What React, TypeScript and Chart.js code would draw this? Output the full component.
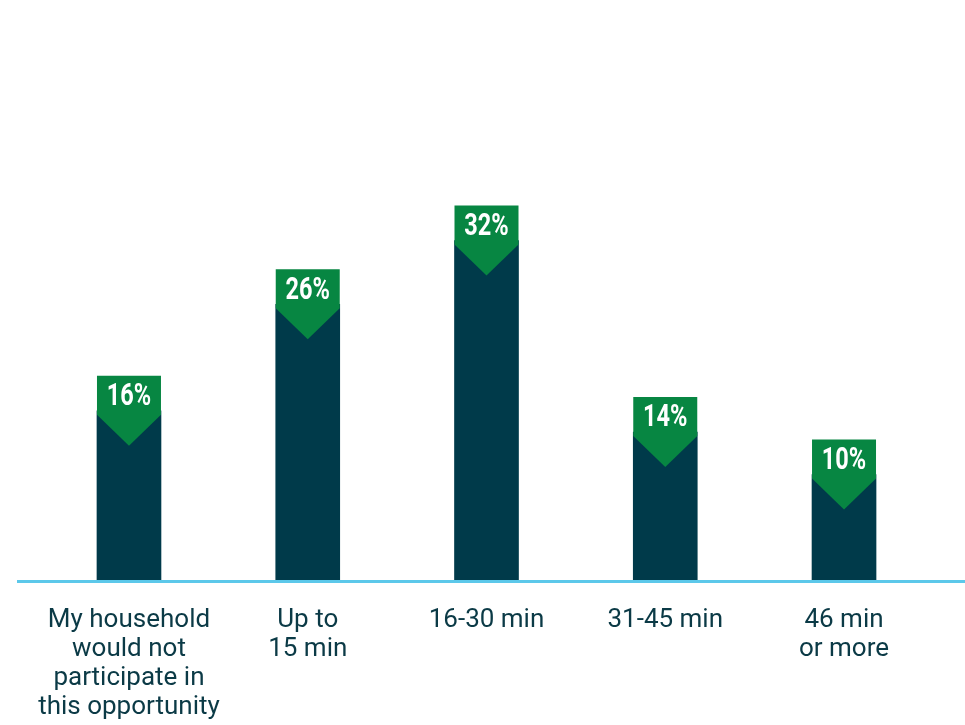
import React, { useEffect, useRef } from "react";
import { Chart, registerables } from "chart.js";

Chart.register(...registerables);

const categories: string[][] = [
  ["My household", "would not", "participate in", "this opportunity"],
  ["Up to", "15 min"],
  ["16-30 min"],
  ["31-45 min"],
  ["46 min", "or more"],
];
const values: number[] = [16, 26, 32, 14, 10];
const valueLabels: string[] = ["16%", "26%", "32%", "14%", "10%"];

const BAR = "#003a4a";
const GREEN = "#078642";
const AXIS = "#5cc8ea";
const TEXT = "#0b3a46";

const decorPlugin = {
  id: "decor",
  afterDatasetsDraw(chart: any) {
    const ctx = chart.ctx;
    const meta = chart.getDatasetMeta(0);
    const yScale = chart.scales.y;
    const y0 = yScale.getPixelForValue(0);
    ctx.save();
    ctx.strokeStyle = AXIS;
    ctx.lineWidth = 3;
    ctx.beginPath();
    ctx.moveTo(17, y0 + 0.5);
    ctx.lineTo(chart.width, y0 + 0.5);
    ctx.stroke();
    meta.data.forEach((bar: any, i: number) => {
      const half = bar.width / 2;
      const l = bar.x - half;
      const r = bar.x + half;
      const top = bar.y - 35;
      const rb = bar.y + 4;
      const tip = bar.y + 35;
      ctx.fillStyle = GREEN;
      ctx.beginPath();
      ctx.moveTo(l, top);
      ctx.lineTo(r, top);
      ctx.lineTo(r, rb);
      ctx.lineTo(bar.x, tip);
      ctx.lineTo(l, rb);
      ctx.closePath();
      ctx.fill();
      ctx.save();
      ctx.translate(bar.x, (top + rb) / 2 + 2);
      ctx.scale(0.76, 1);
      ctx.fillStyle = "#ffffff";
      ctx.font = "bold 31px Roboto, 'DejaVu Sans', sans-serif";
      ctx.textAlign = "center";
      ctx.textBaseline = "middle";
      ctx.fillText(valueLabels[i], 0, 0);
      ctx.restore();
    });
    ctx.restore();
  },
};

export default function App() {
  const ref = useRef<HTMLCanvasElement>(null);
  useEffect(() => {
    if (!ref.current) return;
    const chart = new Chart(ref.current, {
      type: "bar",
      data: {
        labels: categories,
        datasets: [
          {
            data: values,
            backgroundColor: BAR,
            barThickness: 64,
            borderWidth: 0,
          },
        ],
      },
      options: {
        animation: false,
        responsive: false,
        maintainAspectRatio: false,
        layout: { padding: { top: 49, left: 39.6, right: 31.6, bottom: 0 } },
        plugins: { legend: { display: false }, tooltip: { enabled: false } },
        scales: {
          y: { display: false, min: 0, max: 50 },
          x: {
            border: { display: false },
            grid: { display: false, drawTicks: false },
            ticks: {
              color: TEXT,
              padding: 25,
              maxRotation: 0,
              autoSkip: false,
              font: { family: "Roboto, 'Liberation Sans', sans-serif", size: 26, lineHeight: 1.115 },
            },
            afterFit(scale: any) {
              scale.height = 144;
            },
          },
        },
      },
      plugins: [decorPlugin],
    });
    return () => chart.destroy();
  }, []);
  return (
    <div style={{ position: "fixed", left: 0, top: 0, width: 965, height: 725, background: "#fff" }}>
      <canvas ref={ref} width={965} height={725} style={{ width: 965, height: 725 }} />
    </div>
  );
}
